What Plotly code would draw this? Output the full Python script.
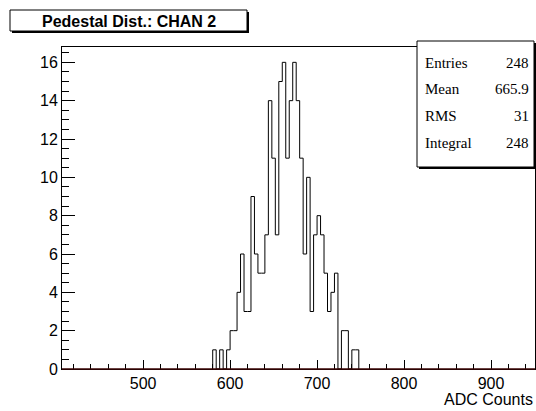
import plotly.graph_objects as go

# ---- data ----
bin_start = 580
bin_width = 4
counts = [1, 0, 1, 0, 1, 2, 2, 4, 6, 3, 3, 9, 6, 5, 5, 7, 14, 11, 7, 15,
          16, 11, 14, 16, 14, 11, 6, 10, 3, 7, 8, 7, 5, 3, 4, 5, 0, 2, 2, 0,
          1, 1]
x_range = [406.7, 950.6]
y_max = 16.8
title_text = "Pedestal Dist.: CHAN 2"
x_title = "ADC Counts"
stat_labels = ["Entries", "Mean", "RMS", "Integral"]
stat_values = ["248", "665.9", "31", "248"]

edges = [bin_start + bin_width * i for i in range(len(counts) + 1)]
ys = counts + [0]

W, H = 536, 411
L, R, T, B = 62, 1, 47, 42
pw, ph = W - L - R, H - T - B


def px(x):
    return (x - L) / pw


def py(y):
    return (H - B - y) / ph


fig = go.Figure()
fig.add_trace(go.Scatter(
    x=[edges[0]] + edges, y=[0] + ys, mode="lines",
    line=dict(color="black", width=1, shape="hv"),
    hoverinfo="skip", showlegend=False))

fig.update_layout(
    width=W, height=H, margin=dict(l=L, r=R, t=T, b=B),
    paper_bgcolor="white", plot_bgcolor="white", showlegend=False,
    font=dict(family="Liberation Sans, Arial", color="black"),
)
fig.update_xaxes(
    range=x_range, showgrid=False, zeroline=False,
    showline=True, linecolor="black", linewidth=1, mirror=True,
    ticks="inside", ticklen=9, tickcolor="black", tick0=0, dtick=100,
    minor=dict(ticks="inside", ticklen=5, dtick=20, tickcolor="black"),
    tickfont=dict(size=16, family="Liberation Sans, Arial"),
)
fig.update_yaxes(
    range=[0, y_max], showgrid=False, zeroline=False,
    showline=True, linecolor="black", linewidth=1, mirror=True,
    ticks="inside", ticklen=13, tickcolor="black", tick0=0, dtick=2,
    minor=dict(ticks="inside", ticklen=7, dtick=0.5, tickcolor="black"),
    tickfont=dict(size=16, family="Liberation Sans, Arial"),
)

shapes = []
# bottom baseline (dark)
shapes.append(dict(type="line", xref="paper", yref="paper", x0=0, x1=1, y0=0, y1=0,
                   line=dict(color="#3a0505", width=1.5), layer="above"))
# title box with shadow
tx0, tx1, ty0, ty1 = 10, 247, 10, 31
shapes.append(dict(type="rect", xref="paper", yref="paper",
                   x0=px(tx0 + 2), x1=px(tx1 + 2), y0=py(ty1 + 2), y1=py(ty0 + 2),
                   fillcolor="black", line=dict(width=0), layer="above"))
shapes.append(dict(type="rect", xref="paper", yref="paper",
                   x0=px(tx0), x1=px(tx1), y0=py(ty1), y1=py(ty0),
                   fillcolor="white", line=dict(color="black", width=1), layer="above"))
# stats box with shadow
sx0, sx1, sy0, sy1 = 417, 534, 41, 167
shapes.append(dict(type="rect", xref="paper", yref="paper",
                   x0=px(sx0 + 2), x1=px(sx1 + 2), y0=py(sy1 + 2), y1=py(sy0 + 2),
                   fillcolor="black", line=dict(width=0), layer="above"))
shapes.append(dict(type="rect", xref="paper", yref="paper",
                   x0=px(sx0), x1=px(sx1), y0=py(sy1), y1=py(sy0),
                   fillcolor="white", line=dict(color="black", width=1), layer="above"))
fig.update_layout(shapes=shapes)

ann = []
ann.append(dict(text="<b>" + title_text + "</b>", xref="paper", yref="paper",
                x=px((tx0 + tx1) / 2), y=py((ty0 + ty1) / 2 + 1), xanchor="center", yanchor="middle",
                showarrow=False, font=dict(size=16, family="Liberation Sans, Arial", color="black")))
rows_y = [63, 89, 116, 143]
for lab, val, yy in zip(stat_labels, stat_values, rows_y):
    ann.append(dict(text=lab, xref="paper", yref="paper", x=px(423), y=py(yy),
                    xanchor="left", yanchor="middle", showarrow=False,
                    font=dict(size=15, family="Liberation Serif, Times New Roman", color="black")))
    ann.append(dict(text=val, xref="paper", yref="paper", x=px(531), y=py(yy),
                    xanchor="right", yanchor="middle", showarrow=False,
                    font=dict(size=15, family="Liberation Serif, Times New Roman", color="black")))
ann.append(dict(text=x_title, xref="paper", yref="paper", x=px(535), y=py(399),
                xanchor="right", yanchor="middle", showarrow=False,
                font=dict(size=16, family="Liberation Sans, Arial", color="black")))
fig.update_layout(annotations=ann)

fig.write_html(
    "out.html",
    config={"displayModeBar": False},
    post_script="document.body.style.margin='0';document.body.style.padding='0';"
                "document.body.style.overflow='hidden';",
)
